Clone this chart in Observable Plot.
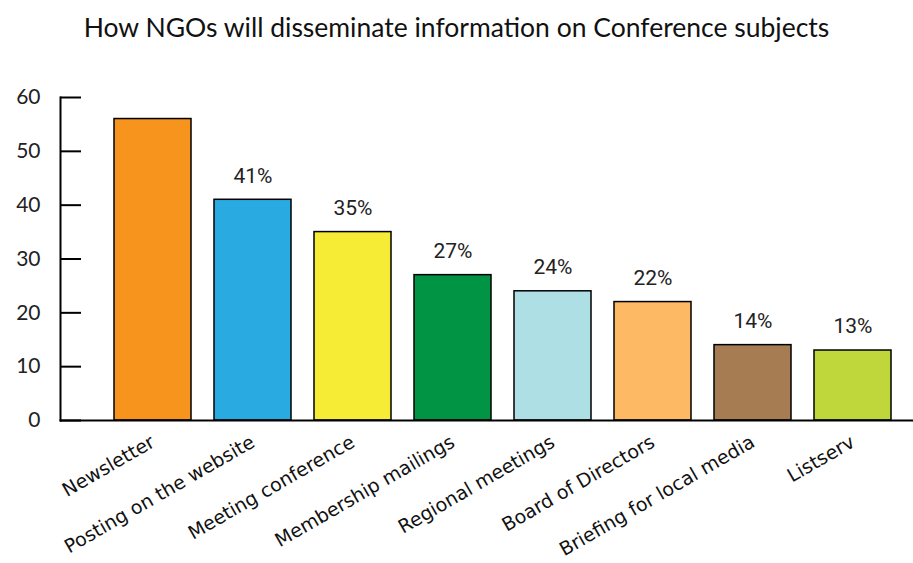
<!DOCTYPE html>
<html>
<head>
<meta charset="utf-8">
<script src="https://cdn.jsdelivr.net/npm/d3@7"></script>
<script src="https://cdn.jsdelivr.net/npm/@observablehq/plot@0.6"></script>
<style>
  body { margin: 0; background: #fff; }
  #title { height: 55px; width: 913px; text-align: center; font-family: Lato, sans-serif; font-size: 26.5px; line-height: 54px; color: #111; }
</style>
</head>
<body>
<div id="title">How NGOs will disseminate information on Conference subjects</div>
<div id="chart"></div>
<script>
const categories = ["Newsletter", "Posting on the website", "Meeting conference", "Membership mailings", "Regional meetings", "Board of Directors", "Briefing for local media", "Listserv"];
const values = [56, 41, 35, 27, 24, 22, 14, 13];
const valueLabels = ["", "41%", "35%", "27%", "24%", "22%", "14%", "13%"];
const colors = ["#F7941D", "#29ABE2", "#F7EC35", "#009444", "#AEDFE5", "#FDB963", "#A67C52", "#BFD73B"];
const yTicks = [0, 10, 20, 30, 40, 50, 60];

const data = categories.map((c, i) => ({category: c, value: values[i], label: valueLabels[i], color: colors[i]}));

const chart = Plot.plot({
  width: 913,
  height: 508,
  marginLeft: 60,
  marginRight: 0,
  marginTop: 42,
  marginBottom: 143,
  style: {fontFamily: "Lato, sans-serif", background: "#fff"},
  x: {domain: categories, paddingInner: 0.228, paddingOuter: 0, insetLeft: 53, insetRight: 20, label: null},
  y: {domain: [0, 60], label: null},
  marks: [
    Plot.barY(data, {x: "category", y: "value", fill: "color", stroke: "#000", strokeWidth: 1.5}),
    Plot.text(data, {x: "category", y: "value", text: "label", dy: -24, fontSize: 21, fill: "#222", fontFamily: "Roboto, sans-serif"}),
    Plot.frame({anchor: "left", strokeWidth: 2}),
    Plot.frame({anchor: "bottom", strokeWidth: 2}),
    Plot.axisY({ticks: yTicks, tickSize: -21, tickFormat: () => "", strokeWidth: 2, label: null}),
    Plot.axisY({ticks: yTicks, tickSize: 0, tickPadding: 20, fontSize: 21, fill: "#222", label: null, fontFamily: "Lato, sans-serif"}),
    Plot.axisX({tickSize: 0, tickPadding: 20, tickRotate: -30, fontSize: 19, fill: "#111", label: null, fontFamily: "DejaVu Sans, sans-serif"})
  ]
});
document.getElementById("chart").appendChild(chart);
</script>
</body>
</html>
